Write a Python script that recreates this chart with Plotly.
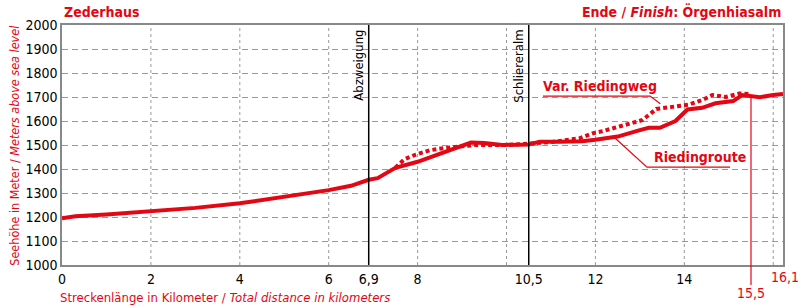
import plotly.graph_objects as go

# Data
route_km = [0, 0.3, 1, 2, 3, 4, 5, 6, 6.5, 6.9, 7.1, 7.5, 8.0, 8.3, 8.7, 9.2, 9.5, 9.9, 10.5, 10.75,
            11.2, 11.7, 12.0, 12.5, 13.0, 13.2, 13.45, 13.8, 14.07, 14.4, 14.7, 15.1, 15.3, 15.5, 15.7, 16.0, 16.22]
route_m = [1195, 1203, 1210, 1222, 1238, 1257, 1283, 1312, 1330, 1355, 1362, 1405, 1430, 1450, 1478, 1510,
           1508, 1500, 1502, 1514, 1514, 1516, 1522, 1535, 1562, 1572, 1572, 1600, 1648, 1655, 1674, 1683,
           1708, 1703, 1699, 1708, 1713]

var_km = [7.5, 7.7, 7.93, 8.27, 8.6, 9.0, 9.3, 10.0, 10.5, 11.0, 11.64, 11.95, 12.17, 12.6, 13.06, 13.37,
          13.82, 14.1, 14.4, 14.63, 14.94, 15.24, 15.5]
var_m = [1405, 1440, 1458, 1478, 1487, 1493, 1500, 1500, 1505, 1512, 1528, 1549, 1558, 1580, 1604, 1650,
         1660, 1668, 1687, 1708, 1700, 1715, 1712]

tick_vals = [0, 2, 4, 6, 6.9, 8, 10.5, 12, 14]
tick_text = ["0", "2", "4", "6", "6,9", "8", "10,5", "12", "14"]
grid_x = [2, 4, 6, 8, 10, 12, 14, 16]
markers = [(6.9, "Abzweigung"), (10.5, "Schliereralm")]
end_km = 15.5
end_m = 1705
total_label = "16,1"

RED = "#e30613"
FONT = "DejaVu Sans Condensed, Roboto, sans-serif"
x_max = 16.22

fig = go.Figure()
fig.add_trace(go.Scatter(x=var_km, y=var_m, mode="lines",
                         line=dict(color=RED, width=4, dash="4px,3px"), showlegend=False))
fig.add_trace(go.Scatter(x=route_km, y=route_m, mode="lines",
                         line=dict(color=RED, width=4), showlegend=False))

shapes = []
for gx in grid_x:
    shapes.append(dict(type="line", xref="x", yref="paper", x0=gx, x1=gx, y0=0, y1=1,
                       line=dict(color="#999999", width=1, dash="3px,3px"), layer="below"))
for mx, _ in markers:
    shapes.append(dict(type="line", xref="x", yref="paper", x0=mx, x1=mx, y0=0, y1=1,
                       line=dict(color="black", width=1.5)))
shapes.append(dict(type="line", xref="x", yref="paper", x0=end_km, x1=end_km,
                   y0=-0.083, y1=(end_m - 1000) / 1000, line=dict(color=RED, width=1.2)))
# leader lines
shapes.append(dict(type="path", xref="x", yref="y",
                   path="M 10.82 1704 L 13.23 1704 L 13.46 1672",
                   line=dict(color=RED, width=1.2)))
shapes.append(dict(type="path", xref="x", yref="y",
                   path="M 15.03 1408 L 13.16 1408 L 12.44 1529",
                   line=dict(color=RED, width=1.2)))

annotations = []
for mx, name in markers:
    annotations.append(dict(x=mx, y=1, xref="x", yref="paper", text=name, textangle=-90,
                            xanchor="right", yanchor="top", showarrow=False, xshift=-1, yshift=-3,
                            font=dict(family=FONT, size=13, color="black")))
annotations += [
    dict(x=0, y=1, xref="paper", yref="paper", text="<b>Zederhaus</b>", xanchor="left",
         yanchor="bottom", yshift=3, showarrow=False, font=dict(family=FONT, size=14, color=RED)),
    dict(x=1, y=1, xref="paper", yref="paper", text="<b>Ende / <i>Finish</i>: Örgenhiasalm</b>",
         xanchor="right", yanchor="bottom", yshift=3, showarrow=False,
         font=dict(family=FONT, size=14, color=RED)),
    dict(x=-0.006, y=-0.135, xref="paper", yref="paper",
         text="Streckenlänge in Kilometer / <i>Total distance in kilometers</i>",
         xanchor="left", yanchor="middle", showarrow=False, font=dict(family=FONT, size=13, color=RED)),
    dict(x=-0.067, y=0.5, xref="paper", yref="paper", textangle=-90,
         text="Seehöhe in Meter / <i>Meters above sea level</i>",
         xanchor="center", yanchor="middle", showarrow=False, font=dict(family=FONT, size=12.5, color=RED)),
    dict(x=end_km, y=-0.117, xref="x", yref="paper", text="15,5", xanchor="center", yanchor="middle",
         showarrow=False, font=dict(family=FONT, size=14, color=RED)),
    dict(x=1, y=0, xref="paper", yref="paper", text=total_label, xanchor="center", yanchor="top",
         xshift=2, yshift=-2, showarrow=False, font=dict(family=FONT, size=14, color=RED)),
    dict(x=12.1, y=1746, xref="x", yref="y", text="<b>Var. Riedingweg</b>", showarrow=False,
         font=dict(family=FONT, size=14, color=RED)),
    dict(x=14.35, y=1450, xref="x", yref="y", text="<b>Riedingroute</b>", showarrow=False,
         font=dict(family=FONT, size=14, color=RED)),
]

fig.update_layout(
    width=798, height=306,
    margin=dict(l=62, r=15, t=25, b=41),
    plot_bgcolor="white", paper_bgcolor="white",
    shapes=shapes, annotations=annotations,
    font=dict(family=FONT, size=14, color="black"),
    xaxis=dict(range=[0, x_max], tickvals=tick_vals, ticktext=tick_text, showgrid=False,
               zeroline=False, showline=True, linecolor="#888888", linewidth=1.5, mirror=True,
               ticks="", tickfont=dict(family=FONT, size=14, color="black")),
    yaxis=dict(range=[1000, 2000], dtick=100, showgrid=True, gridcolor="#999999", griddash="6px,4px",
               gridwidth=1, zeroline=False, showline=True, linecolor="#888888", linewidth=1.5, mirror=True,
               ticks="", tickfont=dict(family=FONT, size=14, color="black")),
)

fig.write_html("out.html", config={"displayModeBar": False},
               post_script="document.body.style.margin='0';")
